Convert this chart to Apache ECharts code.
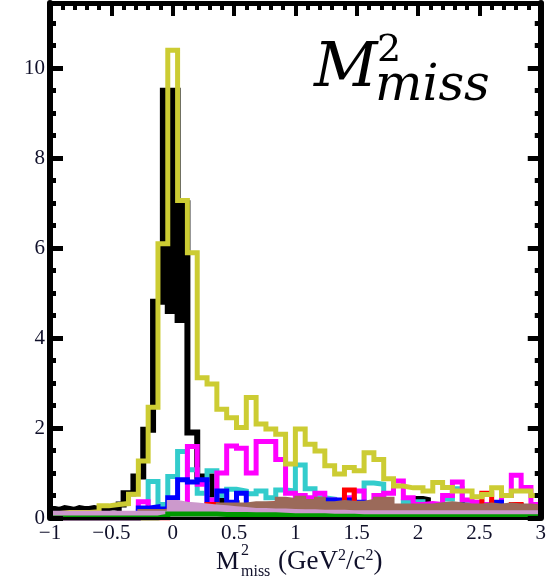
<!DOCTYPE html>
<html>
<head>
<meta charset="utf-8">
<script src="https://cdn.jsdelivr.net/npm/echarts@6/dist/echarts.min.js"></script>
<style>
  html, body { margin: 0; padding: 0; background: #fff; }
  #chart { width: 549px; height: 580px; }
</style>
</head>
<body>
<div id="chart"></div>
<script>
// Missing-mass-squared histograms, range -1 .. 3 GeV^2/c^2
const X_MIN = -1;
const X_MAX = 3;
const BIN = 0.08;       // common bin width
const BIN_FINE = 0.04;  // finer binning used by the black histogram

const xTickLabels = [-1, -0.5, 0, 0.5, 1, 1.5, 2, 2.5, 3];
const yTickLabels = [0, 2, 4, 6, 8, 10];

// bin contents, 50 bins of 0.08
const yellow = [0.10,0.12,0.12,0.12,0.14, 0.27,0.30,0.32,0.53,1.27,
                2.46,6.10,10.40,7.06,5.90, 3.12,2.98,2.42,2.23,2.01,
                2.68,2.09,1.98,1.86,1.20, 1.98,1.64,1.49,1.16,0.98,
                1.12,1.05,1.45,1.30,0.87, 0.71,0.67,0.67,0.60,0.79,
                0.68,0.60,0.60,0.47,0.52, 0.67,0.50,0.60,0.60,0.50];

const cyan = [0,0,0,0,0, 0,0,0,0,0.15,
              0.81,0.30,0.92,1.48,1.07, 0.55,1.05,0.50,0.64,0.60,
              0.54,0.60,0.45,0.62,0.60, 1.18,0.65,0.45,0.42,0.30,
              0.35,0.30,0.78,0.75,0.25, 0.20,0.36,0.36,0.22,0.25,
              0.42,0.65,0.30,0.30,0.28, 0.25,0.28,0.25,0.25,0.25];

const magenta = [0,0,0,0,0, 0,0,0,0,0.36,
                 0.10,0.10,0.15,0.25,1.59, 0.75,0.40,1.00,1.60,1.55,
                 1.00,1.70,1.70,1.30,0.55, 0.50,0.45,0.55,0.40,0.30,
                 0.45,0.60,0.30,0.50,0.55, 0.82,0.45,0.30,0.32,0.30,
                 0.50,0.80,0.40,0.35,0.30, 0.30,0.50,0.95,0.68,0.30];

const blue = [0,0,0,0,0, 0,0,0,0,0.22,
              0.25,0.20,0.45,0.85,0.80, 0.85,0.30,0.60,0.35,0.55,
              0.25,0.20,0.22,0.30,0.20, 0.30,0.35,0.25,0.40,0.40,
              0.40,0.35,0.20,0.20,0.25, 0.20,0.25,0.20,0.20,0.22,
              0.20,0.30,0.22,0.20,0.25, 0.35,0.22,0.28,0.20,0.20];

const red = [0,0,0,0,0, 0,0,0,0,0,
             0,0,0.15,0.20,0.20, 0.22,0.30,0.20,0.22,0.28,
             0.20,0.30,0.32,0.20,0.22, 0.20,0.22,0.20,0.25,0.20,
             0.62,0.30,0.22,0.20,0.20, 0.22,0.20,0.20,0.25,0.20,
             0.22,0.20,0.20,0.22,0.55, 0.25,0.20,0.30,0.22,0.20];

const green = [0,0,0,0,0, 0,0,0,0,0,
               0,0.04,0.09,0.09,0.09, 0.09,0.09,0.08,0.08,0.08,
               0.07,0.07,0.07,0.06,0.05, 0.05,0.05,0.05,0.04,0.04,
               0.04,0.03,0.03,0.03,0.03, 0.03,0.03,0.03,0.03,0.03,
               0.03,0.03,0.03,0.03,0.03, 0.03,0.03,0.03,0.03,0.03];

const brown = [0.05,0.05,0.05,0.05,0.05, 0.05,0.05,0.05,0.05,0.18,
               0.18,0.18,0.20,0.25,0.25, 0.25,0.25,0.32,0.32,0.32,
               0.35,0.35,0.35,0.45,0.42, 0.47,0.40,0.45,0.35,0.38,
               0.36,0.36,0.40,0.45,0.45, 0.30,0.30,0.30,0.30,0.33,
               0.35,0.33,0.30,0.30,0.32, 0.30,0.32,0.30,0.30,0.28];

const plum = [0.14,0.14,0.14,0.14,0.14, 0.14,0.14,0.14,0.14,0.14,
              0.14,0.14,0.38,0.34,0.32, 0.30,0.28,0.26,0.24,0.22,
              0.20,0.20,0.19,0.19,0.18, 0.17,0.17,0.16,0.16,0.16,
              0.15,0.15,0.15,0.15,0.15, 0.15,0.15,0.15,0.15,0.15,
              0.15,0.15,0.15,0.15,0.15, 0.15,0.15,0.15,0.15,0.15];

// 100 bins of 0.04
const black = [0.20,0.18,0.22,0.20,0.18, 0.22,0.20,0.20,0.22,0.20,
               0.18,0.22,0.24,0.22,0.30, 0.55,0.55,0.92,0.92,1.96,
               1.96,4.81,4.81,9.50,4.60, 9.50,4.40,7.00,1.90,1.90,
               0.92,0.92,0.92,0.52,0.52, 0.33,0.33,0.33,0.22,0.20,
               0.22,0.20,0.18,0.22,0.25, 0.20,0.18,0.22,0.20,0.24,
               0.20,0.22,0.18,0.20,0.26, 0.20,0.18,0.22,0.20,0.20,
               0.24,0.20,0.22,0.18,0.20, 0.22,0.26,0.20,0.18,0.22,
               0.20,0.22,0.20,0.18,0.24, 0.42,0.40,0.20,0.22,0.18,
               0.20,0.22,0.20,0.26,0.20, 0.18,0.22,0.20,0.22,0.20,
               0.18,0.22,0.20,0.24,0.20, 0.22,0.18,0.20,0.22,0.20];

// turn bin contents into step-line vertices: [low edge, content] ... [last edge, last content]
function histPoints(values, width) {
  const pts = values.map((v, i) => [+(X_MIN + i * width).toFixed(4), v]);
  pts.push([+(X_MIN + values.length * width).toFixed(4), values[values.length - 1]]);
  return pts;
}

function histSeries(name, values, width, color, lineWidth, z, filled) {
  const s = {
    type: 'line',
    name: name,
    data: histPoints(values, width),
    step: 'end',
    symbol: 'none',
    showSymbol: false,
    silent: true,
    animation: false,
    clip: true,
    z: z,
    lineStyle: { color: color, width: lineWidth, join: 'miter', cap: 'butt' }
  };
  if (filled) s.areaStyle = { color: color, opacity: 1 };
  return s;
}

const minus = v => String(v).replace('-', '\u2212');
const labelFont = { fontFamily: 'Liberation Serif', fontSize: 21, color: '#10102a' };

function xAxisDef(pos, withLabels) {
  return {
    type: 'value', position: pos, min: X_MIN, max: X_MAX, interval: 0.5,
    z: 10,
    axisLine: { show: true, onZero: false, lineStyle: { color: '#000', width: pos === 'top' ? 5 : 3 } },
    axisTick: { show: pos === 'top', inside: true, length: 13, lineStyle: { color: '#000', width: 4 } },
    minorTick: { show: pos === 'top', splitNumber: 5, length: 7, lineStyle: { color: '#000', width: 4 } },
    splitLine: { show: false },
    minorSplitLine: { show: false },
    axisLabel: withLabels ? Object.assign({ show: true, margin: 5,
      formatter: v => xTickLabels.indexOf(v) >= 0 ? minus(v) : '' }, labelFont) : { show: false }
  };
}

function yAxisDef(pos, withLabels) {
  return {
    type: 'value', position: pos, min: 0, max: 11.45, interval: 2,
    z: 10,
    axisLine: { show: true, onZero: false, lineStyle: { color: '#000', width: 6 } },
    axisTick: { show: true, inside: true, length: 13, lineStyle: { color: '#000', width: 5 } },
    minorTick: { show: true, splitNumber: 4, length: 6, lineStyle: { color: '#000', width: 5 } },
    splitLine: { show: false },
    minorSplitLine: { show: false },
    axisLabel: withLabels ? Object.assign({ show: true, margin: 5, showMaxLabel: false,
      formatter: v => yTickLabels.indexOf(v) >= 0 ? String(v) : '' }, labelFont) : { show: false }
  };
}

const serif = '"Liberation Serif", serif';
const titleFont = '"DejaVu Serif", serif';

const chart = echarts.init(document.getElementById('chart'), null, { renderer: 'canvas' });
chart.setOption({
  backgroundColor: '#fff',
  animation: false,
  grid: { left: 50, right: 3, top: 3, bottom: 62, containLabel: false },
  xAxis: [xAxisDef('bottom', true), xAxisDef('top', false)],
  yAxis: [yAxisDef('left', true), yAxisDef('right', false)],
  series: [
    histSeries('black', black, BIN_FINE, '#000000', 6, 2, false),
    histSeries('cyan', cyan, BIN, '#33cccc', 5, 3, false),
    histSeries('magenta', magenta, BIN, '#ff00ff', 5, 3, false),
    histSeries('blue', blue, BIN, '#0000ff', 5, 3, false),
    histSeries('red', red, BIN, '#ff0000', 5, 3, false),
    histSeries('yellow', yellow, BIN, '#cccc33', 5, 4, false),
    histSeries('brown', brown, BIN, '#9b6a5a', 2, 5, true),
    histSeries('plum', plum, BIN, '#cc99cc', 2, 6, true),
    histSeries('green', green, BIN, '#009900', 5, 7, false)
  ],
  graphic: [
    // large label in the upper right
    { type: 'text', z: 20, style: { text: 'M', x: 314, y: 70, font: 'italic 62px ' + titleFont,
      fill: '#000', align: 'left', verticalAlign: 'middle' } },
    { type: 'text', z: 20, style: { text: '2', x: 377, y: 51, font: '38px ' + titleFont,
      fill: '#000', align: 'left', verticalAlign: 'middle' } },
    { type: 'text', z: 20, style: { text: 'miss', x: 375, y: 87, font: 'italic 50px ' + titleFont,
      fill: '#000', align: 'left', verticalAlign: 'middle' } },
    // x-axis title
    { type: 'text', z: 20, style: { text: 'M', x: 216, y: 562, font: '26px ' + serif,
      fill: '#10102a', align: 'left', verticalAlign: 'middle' } },
    { type: 'text', z: 20, style: { text: '2', x: 241, y: 551, font: '16px ' + serif,
      fill: '#10102a', align: 'left', verticalAlign: 'middle' } },
    { type: 'text', z: 20, style: { text: 'miss', x: 241, y: 572, font: '16px ' + serif,
      fill: '#10102a', align: 'left', verticalAlign: 'middle' } },
    { type: 'text', z: 20, style: {
      text: '{a|(GeV}{s|2}{a|/c}{s|2}{a|)}', x: 278, y: 562, align: 'left', verticalAlign: 'middle',
      rich: {
        a: { fontFamily: 'Liberation Serif', fontSize: 27, fill: '#10102a', lineHeight: 28 },
        s: { fontFamily: 'Liberation Serif', fontSize: 16, fill: '#10102a', verticalAlign: 'top', lineHeight: 28 }
      } } }
  ]
});
</script>
</body>
</html>
